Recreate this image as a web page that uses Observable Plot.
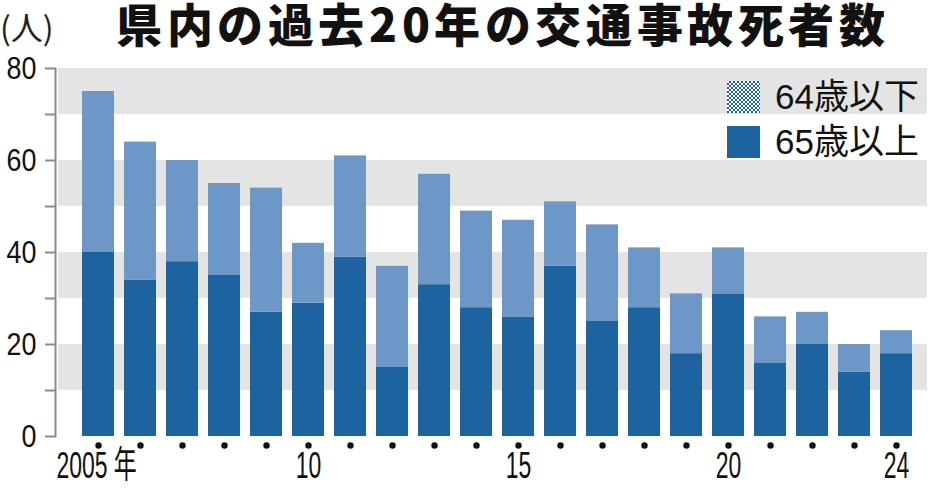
<!DOCTYPE html>
<html>
<head>
<meta charset="utf-8">
<script src="https://cdn.jsdelivr.net/npm/d3@7"></script>
<script src="https://cdn.jsdelivr.net/npm/@observablehq/plot@0.6"></script>
<style>
  @font-face {
    font-family: "TitleJP";
    src: local("Noto Sans CJK JP Black"), local("NotoSansCJKjp-Black"), local("Noto Sans CJK JP Bold"), local("NotoSansCJKjp-Bold");
    font-weight: 900;
    ascent-override: 90%;
    descent-override: 12%;
    line-gap-override: 0%;
  }
  body { margin: 0; background: #fff; }
  #wrap { position: relative; width: 934px; height: 488px; overflow: hidden; }
  #title { position: absolute; left: 116px; top: 1px; font: 900 46px/47px "TitleJP", "Noto Sans CJK JP", sans-serif; letter-spacing: 4.6px; white-space: nowrap; color: #111; }
  #unit { position: absolute; left: 0px; top: 10px; font: 400 32px/32px "Noto Sans CJK JP", sans-serif; color: #222; }
  #legend { position: absolute; left: 727px; top: 74px; }
  .item { display: flex; align-items: center; height: 45px; }
  .sw { width: 33px; height: 32px; margin-right: 15px; }
  .lbl { font-size: 35px; font-family: "Liberation Sans", "Noto Sans CJK JP", sans-serif; color: #111; line-height: 1; }
  svg text { font-family: "Liberation Sans", "Noto Sans CJK JP", sans-serif; }
</style>
</head>
<body>
<div id="wrap">
  <div id="chart"></div>
  <div id="unit">(人)</div>
  <div id="title">県内の過去20年の交通事故死者数</div>
  <div id="legend"></div>
</div>
<script>
// ---- data ----
const years = [2005, 2006, 2007, 2008, 2009, 2010, 2011, 2012, 2013, 2014,
               2015, 2016, 2017, 2018, 2019, 2020, 2021, 2022, 2023, 2024];
const over65  = [40, 34, 38, 35, 27, 29, 39, 15, 33, 28, 26, 37, 25, 28, 18, 31, 16, 20, 14, 18];
const under64 = [35, 30, 22, 20, 27, 13, 22, 22, 24, 21, 21, 14, 21, 13, 13, 10, 10, 7, 6, 5];
const seriesNames = ["65歳以上", "64歳以下"];
const seriesColors = ["#1c63a0", "#6d97c6"];
const yTickValues = [0, 10, 20, 30, 40, 50, 60, 70, 80];
const yLabelValues = [0, 20, 40, 60, 80];
const bandRanges = [[10, 20], [30, 40], [50, 60], [70, 80]];
const xLabelYears = [2005, 2010, 2015, 2020, 2024];
const xLabelTexts = ["2005 年", "10", "15", "20", "24"];

// ---- table ----
const rows = [];
years.forEach((yr, i) => rows.push({ year: yr, group: seriesNames[0], value: over65[i] }));
years.forEach((yr, i) => rows.push({ year: yr, group: seriesNames[1], value: under64[i] }));
const bands = bandRanges.map(([a, b]) => ({ y1: a, y2: b }));
const xLabels = xLabelYears.map((yr, i) => ({ year: yr, label: xLabelTexts[i] }));

const plot = Plot.plot({
  width: 934,
  height: 488,
  marginTop: 68,
  marginBottom: 52,
  marginLeft: 64,
  marginRight: 5,
  x: { type: "band", domain: years, padding: 0.25, axis: null },
  y: { domain: [0, 80], axis: null },
  color: { domain: seriesNames, range: seriesColors },
  marks: [
    Plot.rect(bands, { y1: "y1", y2: "y2", fill: "#e4e4e4", insetLeft: -6, insetRight: 2 }),
    Plot.barY(rows, Plot.stackY({ x: "year", y: "value", fill: "group", order: null })),
    Plot.frame({ anchor: "left", dx: -9, stroke: "#8c8c8c", strokeWidth: 2 }),
    Plot.axisY({
      ticks: yTickValues,
      tickFormat: d => yLabelValues.includes(d) ? String(d) : "",
      tickSize: 10, tickPadding: 9, dx: -9,
      stroke: "#8c8c8c", strokeWidth: 2,
      fill: "#111", fontSize: 32, label: null, className: "ylab"
    }),
    Plot.dot(years, { x: d => d, frameAnchor: "bottom", dy: 9, r: 3.2, fill: "#111" }),
    Plot.text(xLabels.slice(0, 1), { x: "year", text: "label", frameAnchor: "bottom", dy: 41, dx: -42, textAnchor: "start", fontSize: 37, fill: "#111", className: "xlab" }),
    Plot.text(xLabels.slice(1), { x: "year", text: "label", frameAnchor: "bottom", dy: 41, fontSize: 37, fill: "#111", className: "xlab" })
  ]
});
document.getElementById("chart").appendChild(plot);

// condense text horizontally (the reference uses a condensed face)
function condense(sel, s) {
  plot.querySelectorAll(sel).forEach(t => {
    const tr = t.getAttribute("transform");
    if (tr) t.setAttribute("transform", tr + ` scale(${s},1)`);
    else {
      const x = +t.getAttribute("x") || 0, y = +t.getAttribute("y") || 0;
      t.removeAttribute("x"); t.removeAttribute("y");
      t.setAttribute("transform", `translate(${x},${y}) scale(${s},1)`);
    }
  });
}
condense(".xlab text", 0.62);
condense(".ylab text", 0.84);

// legend
const legend = document.getElementById("legend");
const legendItems = [
  { name: seriesNames[1], bg: `repeating-conic-gradient(${seriesColors[0]} 0 25%, #ffffff 0 50%) 0 0 / 4px 4px` },
  { name: seriesNames[0], bg: seriesColors[0] }
];
legendItems.forEach(it => {
  const d = document.createElement("div");
  d.className = "item";
  d.innerHTML = `<div class="sw" style="background:${it.bg}"></div><div class="lbl">${it.name}</div>`;
  legend.appendChild(d);
});
</script>
</body>
</html>
